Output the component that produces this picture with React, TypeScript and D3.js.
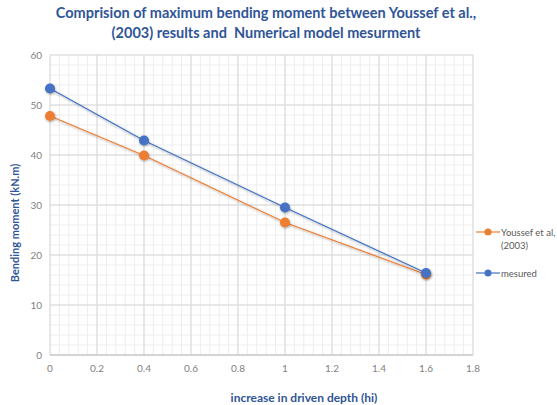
import React, { useEffect, useRef } from 'react';
import * as d3 from 'd3';

const depth = [0, 0.4, 1, 1.6];
const youssef = [47.8, 39.9, 26.5, 16.1];
const mesured = [53.3, 42.9, 29.5, 16.4];
const xTicks = [0, 0.2, 0.4, 0.6, 0.8, 1, 1.2, 1.4, 1.6, 1.8];
const yTicks = [0, 10, 20, 30, 40, 50, 60];

const App = () => {
	const ref = useRef<SVGSVGElement>(null);

	useEffect(() => {
		const svg = d3.select(ref.current);
		svg.selectAll('*').remove();

		const W = 557, H = 405;
		const left = 50, right = 473, top = 55, bottom = 355;
		const x = d3.scaleLinear().domain([0, 1.8]).range([left, right]);
		const y = d3.scaleLinear().domain([0, 60]).range([bottom, top]);
		const font = 'Lato, "Open Sans", sans-serif';
		const titleColor = '#2F5597';

		svg.append('rect').attr('width', W).attr('height', H).attr('fill', '#fff');

		// minor grid
		const g = svg.append('g');
		const minorX = d3.range(0, 1.8001, 0.04);
		const minorY = d3.range(0, 60.001, 2);
		g.selectAll('.mx').data(minorX).enter().append('line')
			.attr('x1', d => x(d)).attr('x2', d => x(d))
			.attr('y1', top).attr('y2', bottom)
			.attr('stroke', '#EDEDED').attr('stroke-width', 1);
		g.selectAll('.my').data(minorY).enter().append('line')
			.attr('x1', left).attr('x2', right)
			.attr('y1', d => y(d)).attr('y2', d => y(d))
			.attr('stroke', '#EDEDED').attr('stroke-width', 1);
		// major grid
		g.selectAll('.Mx').data(xTicks).enter().append('line')
			.attr('x1', d => x(d)).attr('x2', d => x(d))
			.attr('y1', top).attr('y2', bottom)
			.attr('stroke', '#D9D9D9').attr('stroke-width', 1);
		g.selectAll('.My').data(yTicks).enter().append('line')
			.attr('x1', left).attr('x2', right)
			.attr('y1', d => y(d)).attr('y2', d => y(d))
			.attr('stroke', '#D9D9D9').attr('stroke-width', 1);
		g.append('line').attr('x1', left).attr('x2', right)
			.attr('y1', bottom).attr('y2', bottom).attr('stroke', '#BFBFBF');

		// tick labels
		svg.selectAll('.xt').data(xTicks).enter().append('text')
			.attr('x', d => x(d)).attr('y', bottom + 17)
			.attr('text-anchor', 'middle')
			.style('font-family', font).style('font-size', '10px').attr('fill', '#7F7F7F')
			.text(d => d3.format('~g')(d));
		svg.selectAll('.yt').data(yTicks).enter().append('text')
			.attr('x', left - 8).attr('y', d => y(d) + 3.5)
			.attr('text-anchor', 'end')
			.style('font-family', font).style('font-size', '10px').attr('fill', '#7F7F7F')
			.text(d => d);

		// title
		const title = ['Comprision of maximum bending moment between Youssef et al.,', '(2003) results and  Numerical model mesurment'];
		title.forEach((t, i) => {
			svg.append('text')
				.attr('x', 266).attr('y', 18 + i * 19.5)
				.attr('text-anchor', 'middle')
				.style('font-family', font).style('font-size', '14.5px').style('font-weight', 'bold')
				.style('white-space', 'pre')
				.attr('fill', titleColor).text(t);
		});

		// axis titles
		svg.append('text')
			.attr('x', 304).attr('y', 402)
			.attr('text-anchor', 'middle')
			.style('font-family', font).style('font-size', '12px').style('font-weight', 'bold')
			.attr('fill', titleColor).text('increase in driven depth (hi)');
		svg.append('text')
			.attr('transform', 'translate(19,223) rotate(-90)')
			.attr('text-anchor', 'middle')
			.style('font-family', font).style('font-size', '11px').style('font-weight', 'bold')
			.attr('fill', titleColor).text('Bending moment (kN.m)');

		const defs = svg.append('defs');
		const f = defs.append('filter').attr('id', 'sh').attr('x', '-50%').attr('y', '-50%').attr('width', '200%').attr('height', '200%');
		f.append('feDropShadow').attr('dx', 0.5).attr('dy', 1).attr('stdDeviation', 1).attr('flood-color', '#000').attr('flood-opacity', 0.35);

		const series = [
			{ name: 'Youssef', values: youssef, color: '#ED7D31' },
			{ name: 'mesured', values: mesured, color: '#4472C4' },
		];
		const line = d3.line<number>().x((d, i) => x(depth[i])).y(d => y(d));
		series.forEach(s => {
			svg.append('path').attr('d', line(s.values))
				.attr('fill', 'none').attr('stroke', s.color).attr('stroke-width', 1.2)
				.attr('filter', 'url(#sh)');
			svg.selectAll(null).data(s.values).enter().append('circle')
				.attr('cx', (d, i) => x(depth[i])).attr('cy', d => y(d)).attr('r', 5)
				.attr('fill', s.color).attr('filter', 'url(#sh)');
		});

		// legend
		const legend = [
			{ lines: ['Youssef et al,', '(2003)'], color: '#ED7D31', y: 232 },
			{ lines: ['mesured'], color: '#4472C4', y: 273 },
		];
		legend.forEach(l => {
			svg.append('line').attr('x1', 476).attr('x2', 500).attr('y1', l.y).attr('y2', l.y)
				.attr('stroke', l.color).attr('stroke-width', 1.2);
			svg.append('circle').attr('cx', 488).attr('cy', l.y).attr('r', 3.5).attr('fill', l.color);
			l.lines.forEach((t, i) => {
				svg.append('text').attr('x', 501).attr('y', l.y + 3.5 + i * 13)
					.style('font-family', font).style('font-size', '9.5px').attr('fill', '#595959').text(t);
			});
		});
	}, []);

	return <svg ref={ref} width={557} height={405} style={{ position: 'absolute', left: 0, top: 0 }} />;
};

export default App;
